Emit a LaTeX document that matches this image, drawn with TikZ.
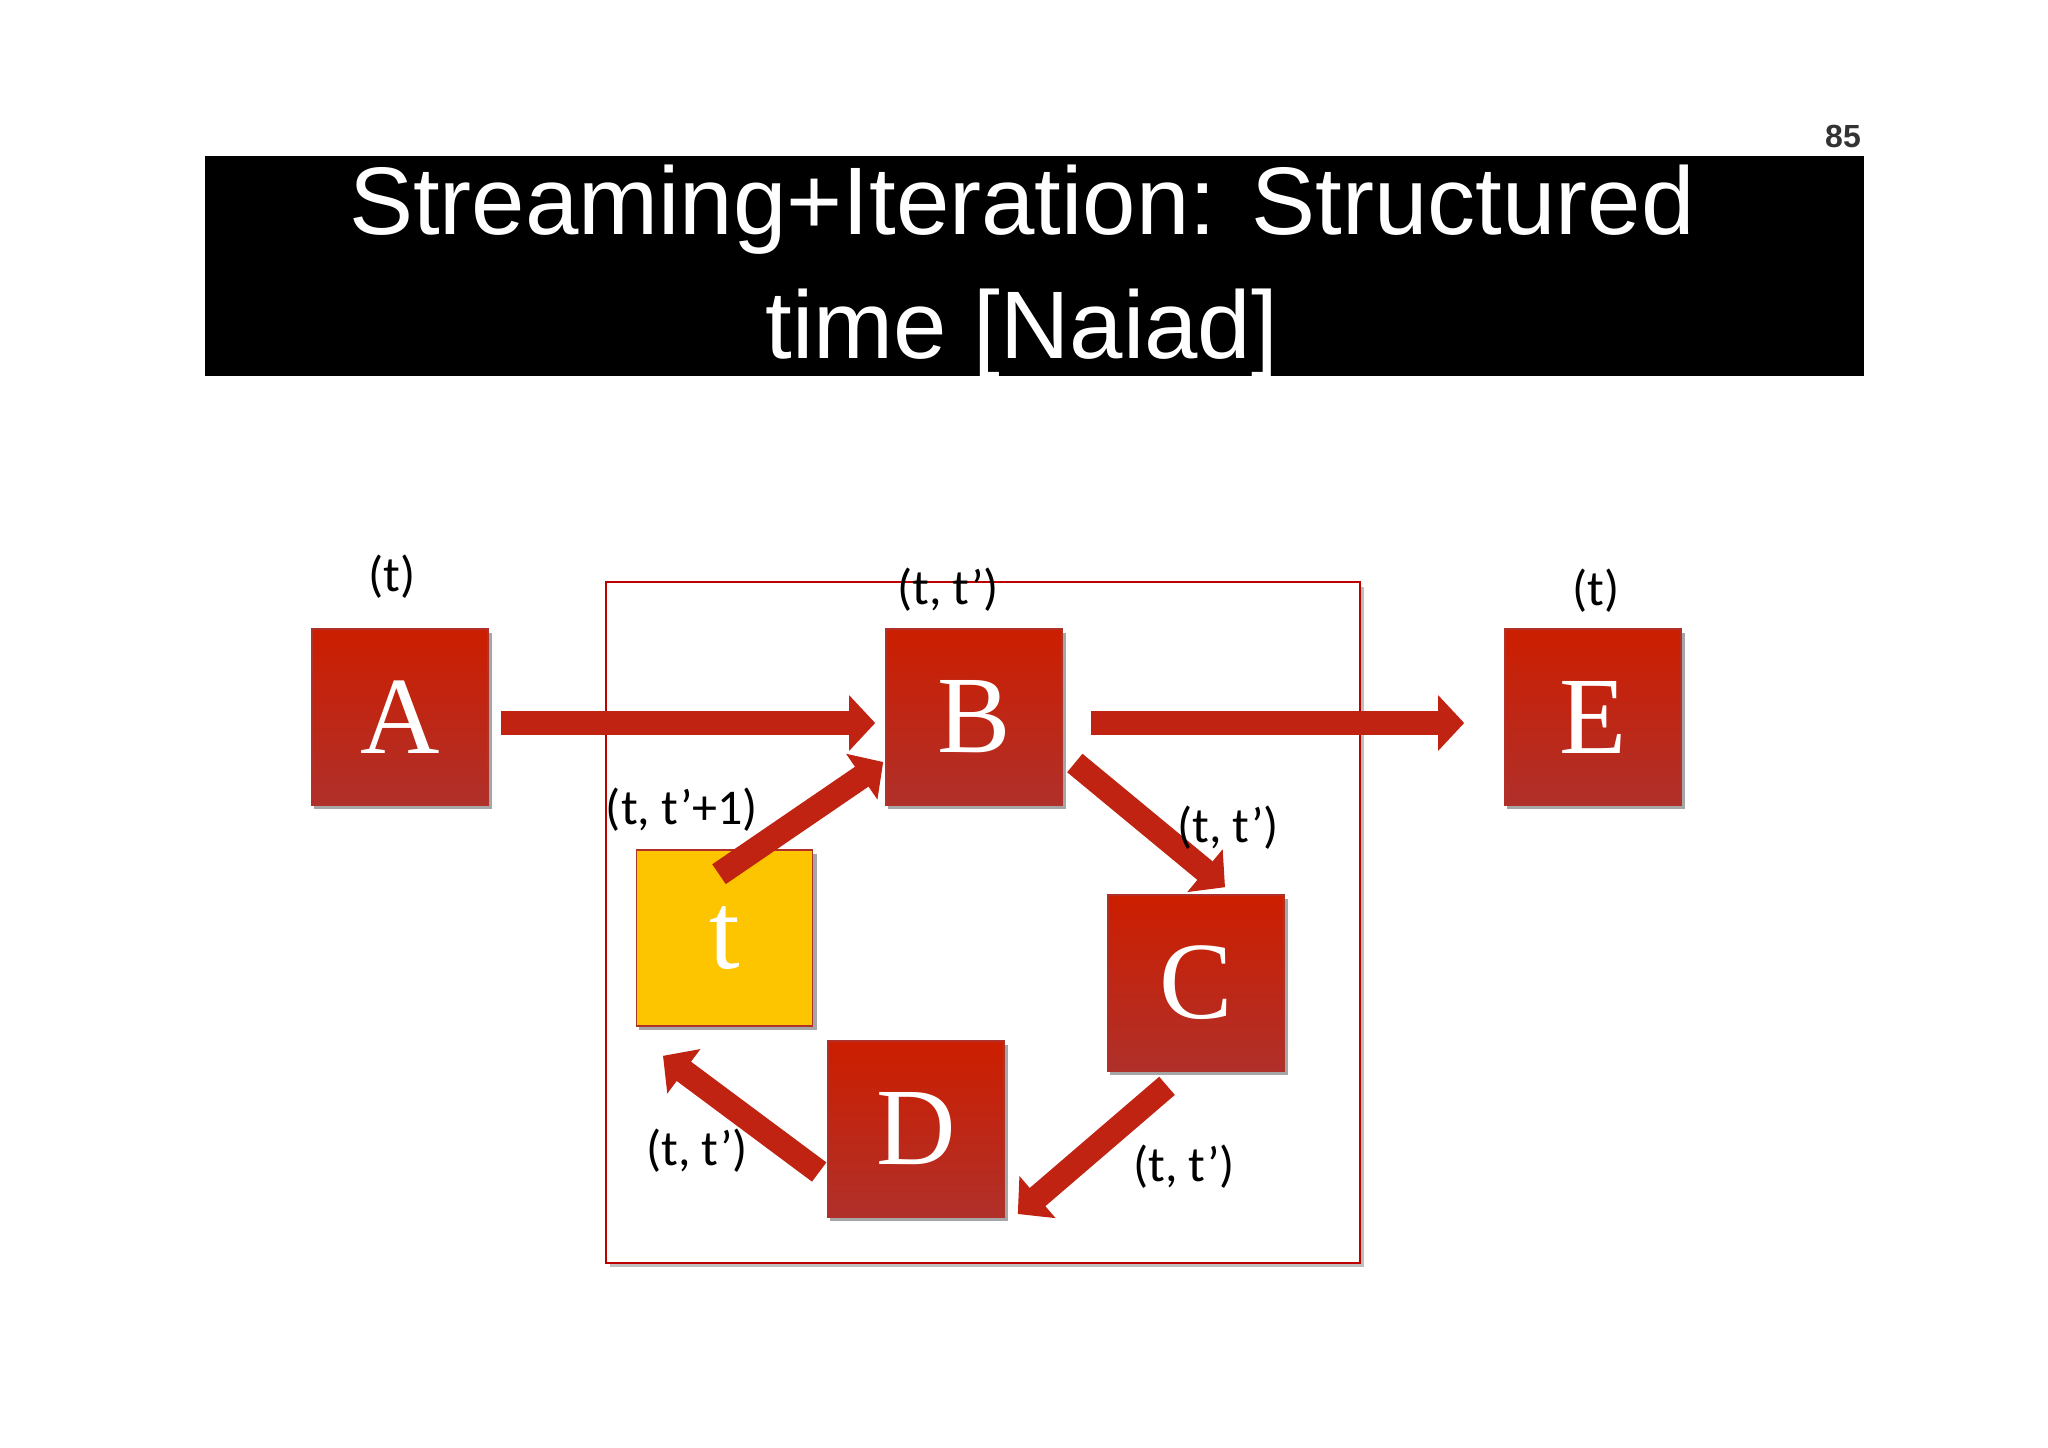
\documentclass[tikz,border=0pt]{standalone}
\usepackage{fontspec}
\setmainfont{Liberation Serif}
\newfontfamily\titlefont{Liberation Sans}
\newfontfamily\labfont{Carlito}
\usetikzlibrary{arrows.meta,calc}
\definecolor{rtop}{HTML}{CC1E00}
\definecolor{rbot}{HTML}{B0302A}
\definecolor{arr}{HTML}{C02312}
\definecolor{ylw}{HTML}{FDC500}
\tikzset{
  opbox/.style={minimum width=88pt,minimum height=88pt,inner sep=0pt,top color=rtop,bottom color=rbot,draw=rbot,line width=0.8pt,text=white,font=\fontsize{55}{60}\selectfont},
  shd/.style={fill=black!35},
  fat/.style={draw=arr,line width=12pt,-{Triangle[width=27pt,length=13pt]}},
  lab/.style={font=\labfont\fontsize{25}{28}\selectfont,inner sep=0pt}
}
\begin{document}
\begin{tikzpicture}[x=0.5pt,y=-0.5pt]
\useasboundingbox (0,0) rectangle (2048,1447);
\fill[white] (0,0) rectangle (2048,1447);
\node[fill=black,minimum width=829.5pt,minimum height=110pt,inner sep=0pt] (bar) at (1034.5,266) {};
\node[text=white,font=\titlefont\fontsize{48}{62}\selectfont,align=center] (title) at (1022,272) {Streaming+Iteration: Structured\\time [Naiad]};
\node[font=\titlefont\bfseries\fontsize{16}{18}\selectfont,text=black!80] (pg) at (1843,136) {85};
\fill[black!25] (610,587) rectangle (1364,1267);
\draw[draw=red!75!black,line width=1pt,fill=white] (606,582) rectangle (1360,1263);
\foreach \x/\y in {400/717,974/717,1593/717,724.5/938,1196/983,916/1129}
  \fill[shd] (\x-86,\y-84) rectangle (\x+92,\y+92);
\node[opbox] (A) at (400,717) {A};
\node[opbox] (B) at (974,717) {B};
\node[opbox] (E) at (1593,717) {E};
\node[opbox,top color=ylw,bottom color=ylw,draw=rbot] (T) at (724.5,938) {t};
\node[opbox] (C) at (1196,983) {C};
\node[opbox] (D) at (916,1129) {D};
\draw[fat] ([xshift=6pt,yshift=-3pt]A.east) -- ([xshift=-5pt,yshift=-3pt]B.west);
\draw[fat] ([xshift=14pt,yshift=-3pt]B.east) -- ([xshift=-20pt,yshift=-3pt]E.west);
\draw[fat] ([xshift=6pt,yshift=-23pt]B.east) -- ([xshift=14.5pt,yshift=3.5pt]C.north);
\draw[fat] ([xshift=-14.5pt,yshift=-7pt]C.south) -- ([xshift=6.5pt,yshift=-42.5pt]D.east);
\draw[fat] ([xshift=-4pt,yshift=-21.5pt]D.west) -- ([xshift=-30.75pt,yshift=-14.5pt]T.south);
\draw[fat] ([xshift=-2.75pt,yshift=-12.5pt]T.north) -- ([xshift=-1pt,yshift=-22.5pt]B.west);
\node[lab] (la) at (392,577) {(t)};
\node[lab] (lb) at (948,590) {(t, t’)};
\node[lab] (le) at (1596,591) {(t)};
\node[lab] (lt) at (682,810) {(t, t’+1)};
\node[lab] (lc) at (1228,828) {(t, t’)};
\node[lab] (ld) at (697,1151) {(t, t’)};
\node[lab] (lcd) at (1184,1167) {(t, t’)};
\end{tikzpicture}
\end{document}
